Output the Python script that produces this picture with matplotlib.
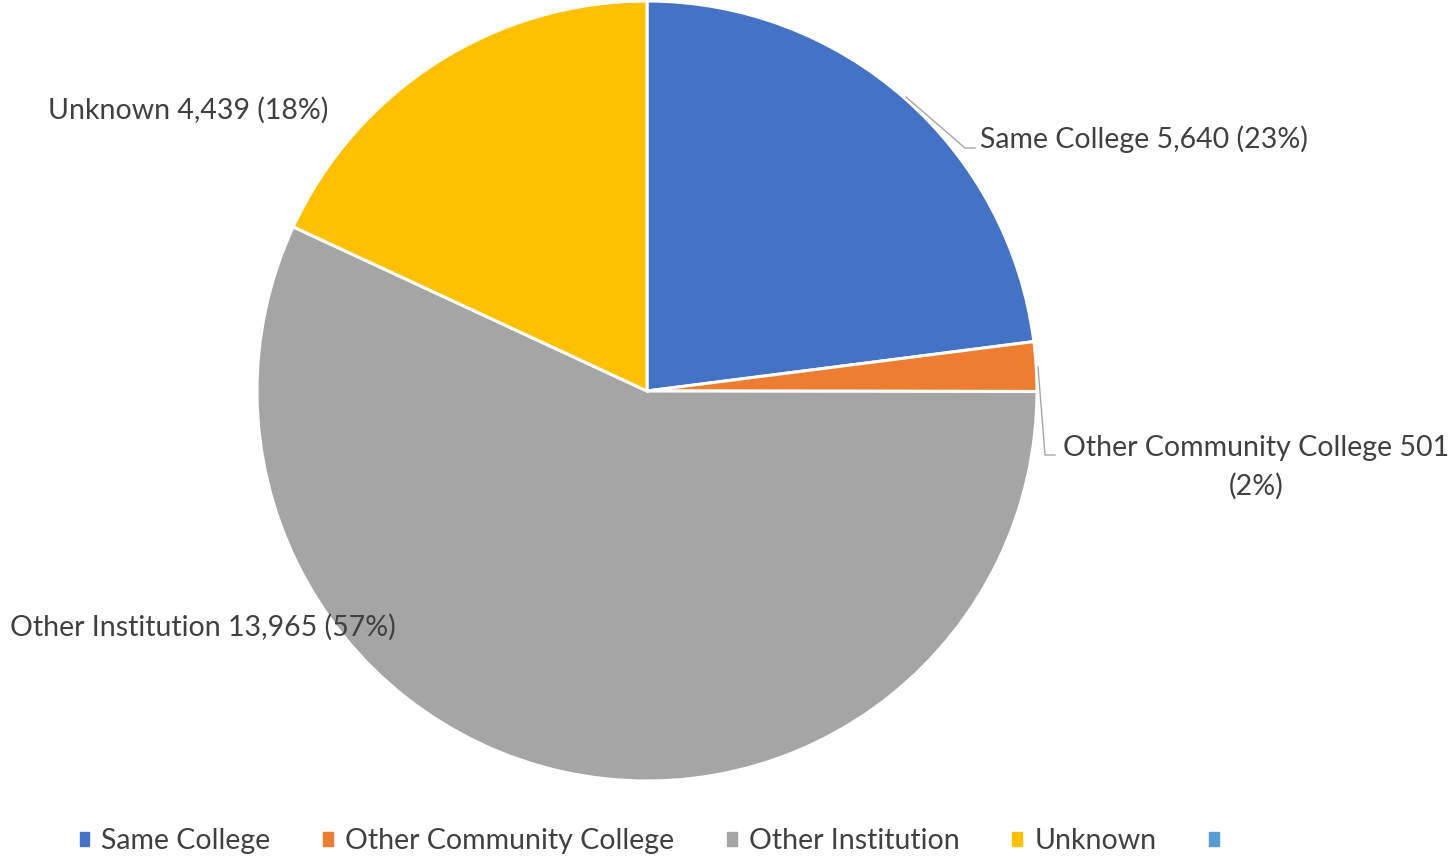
import matplotlib.pyplot as plt
import matplotlib.patches as mpatches
import numpy as np

plt.rcParams['font.family'] = ['Lato', 'DejaVu Sans']

categories = ['Same College', 'Other Community College', 'Other Institution', 'Unknown', '']
values = [5640, 501, 13965, 4439]
colors = ['#4472C4', '#ED7D31', '#A5A5A5', '#FFC000', '#5B9BD5']
txt = '#404040'
fs = 20.5

W, H = 1453, 856
fig = plt.figure(figsize=(W / 100, H / 100), dpi=100)
ax = fig.add_axes([0, 0, 1, 1])

cx, cy, r = 647, H - 391, 390
wedges, _ = ax.pie(values, colors=colors[:4], startangle=90, counterclock=False,
                   center=(cx, cy), radius=r, frame=True,
                   wedgeprops=dict(edgecolor='white', linewidth=2.2))
ax.set_xlim(0, W)
ax.set_ylim(0, H)
ax.axis('off')

total = sum(values)
labels = [f'{c} {v:,} ({v / total:.0%})' for c, v in zip(categories, values)]

# Same College label with leader line
ax.text(980, H - 139, labels[0], fontsize=fs, color=txt, va='center', ha='left')
ax.plot([906, 965, 975], [H - 97, H - 148, H - 148], color='#A6A6A6', lw=1)

# Other Community College label with leader line
ax.text(1256, H - 467, f'{categories[1]} {values[1]:,}\n({values[1] / total:.0%})',
        fontsize=fs, color=txt, va='center', ha='center', linespacing=1.55)
ax.plot([1038, 1045, 1055], [H - 367, H - 455, H - 455], color='#A6A6A6', lw=1)

ax.text(48, H - 110, labels[3], fontsize=fs, color=txt, va='center', ha='left')
ax.text(10, H - 627, labels[2], fontsize=fs, color=txt, va='center', ha='left')

handles = [mpatches.Patch(color=c) for c in colors]
leg = fig.legend(handles, categories, loc='center', bbox_to_anchor=(0.451, 1 - 841 / H),
                 ncol=5, frameon=False, fontsize=fs, handlelength=0.35, handleheight=0.35,
                 handletextpad=0.42, columnspacing=1.85, labelcolor=txt)

fig.savefig('out.png', dpi=100, facecolor='white')
